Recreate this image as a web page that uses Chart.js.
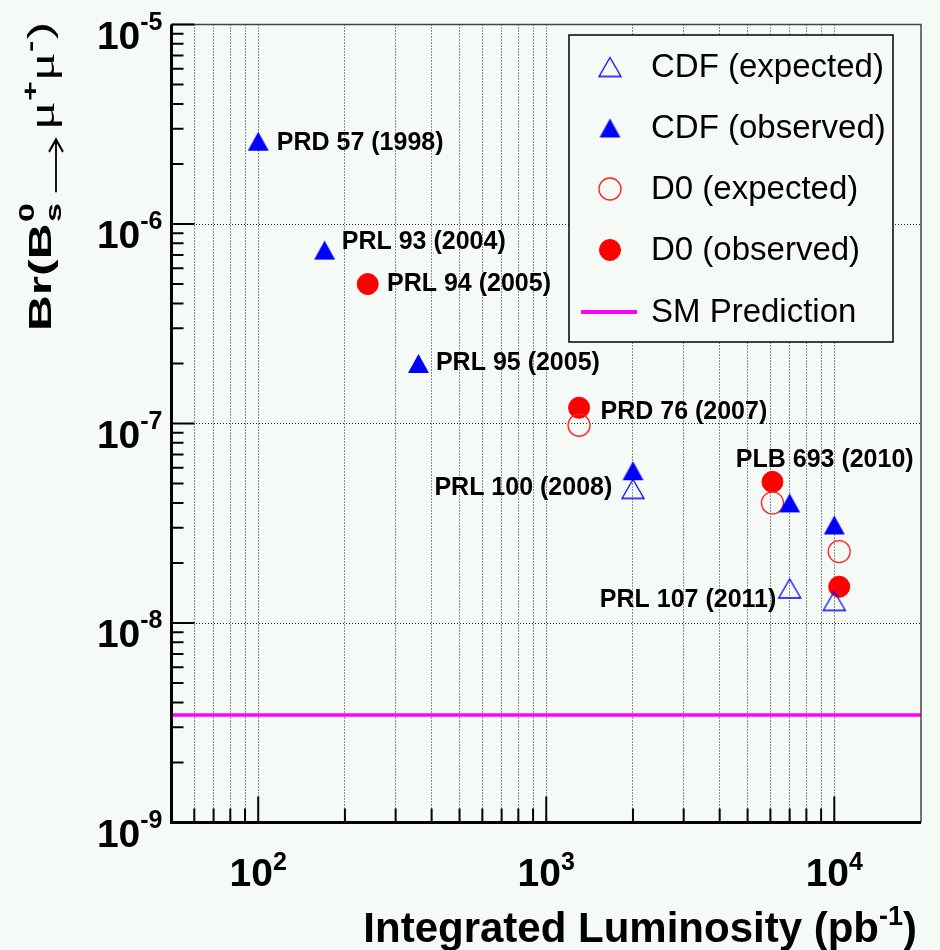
<!DOCTYPE html>
<html>
<head>
<meta charset="utf-8">
<script src="https://cdn.jsdelivr.net/npm/chart.js@4.4.0/dist/chart.umd.min.js"></script>
<style>
  html, body { margin: 0; padding: 0; background: #f6faf7; }
  canvas { display: block; }
</style>
</head>
<body>
<canvas id="lumiChart" width="940" height="950"></canvas>
<script>
// Bs -> mu mu limits vs integrated luminosity, CDF and D0

const cdfExpX = [2000, 7000, 10000];
const cdfExpY = [4.7e-8, 1.49e-8, 1.29e-8];

const cdfObsX = [100, 170, 360, 2000, 7000, 10000];
const cdfObsY = [2.6e-6, 7.4e-7, 2.0e-7, 5.8e-8, 4.0e-8, 3.1e-8];

const d0ExpX = [1300, 6100, 10400];
const d0ExpY = [9.8e-8, 4.0e-8, 2.28e-8];

const d0ObsX = [240, 1300, 6100, 10400];
const d0ObsY = [5.0e-7, 1.2e-7, 5.1e-8, 1.52e-8];

const smX = [50, 20000];
const smY = [3.46e-9, 3.46e-9];

// paper labels, left edge / vertical middle given in data units
const paperText = ['PRD 57 (1998)', 'PRL 93 (2004)', 'PRL 94 (2005)', 'PRL 95 (2005)',
                   'PRD 76 (2007)', 'PRL 100 (2008)', 'PLB 693 (2010)', 'PRL 107 (2011)'];
const paperX = [116, 195, 280, 414, 1543, 409, 4550, 1535];
const paperY = [2.55e-6, 8.07e-7, 5.02e-7, 2.0e-7, 1.14e-7, 4.73e-8, 6.56e-8, 1.30e-8];

// axis ticks
const xMajorTicks = [100, 1000, 10000];
const xTickExp = ['2', '3', '4'];
const xMinorTicks = [60, 70, 80, 90, 200, 300, 400, 500, 600, 700, 800, 900,
                     2000, 3000, 4000, 5000, 6000, 7000, 8000, 9000];
const yMajorTicks = [1e-9, 1e-8, 1e-7, 1e-6, 1e-5];
const yTickExp = ['-9', '-8', '-7', '-6', '-5'];
const yMinorMult = [2, 3, 4, 5, 6, 7, 8, 9];
const yMinorTicks = [];
yMajorTicks.slice(0, 4).forEach(d => yMinorMult.forEach(m => yMinorTicks.push(m * d)));

const BG = '#f6faf7';
const SANS = "'Liberation Sans', Arial, Helvetica, sans-serif";
const SERIF = "'Liberation Serif', 'Times New Roman', serif";

function pts(xs, ys) {
    return xs.map((x, i) => ({ x: x, y: ys[i] }));
}

function triangleSprite(w, h, filled, color) {
    const c = document.createElement('canvas');
    c.width = Math.ceil(w) + 4;
    c.height = Math.ceil(h) + 4;
    const g = c.getContext('2d');
    const cx = c.width / 2, cy = c.height / 2;
    g.beginPath();
    g.moveTo(cx, cy - h / 2);
    g.lineTo(cx + w / 2, cy + h / 2);
    g.lineTo(cx - w / 2, cy + h / 2);
    g.closePath();
    if (filled) {
        g.fillStyle = color;
        g.fill();
    } else {
        g.strokeStyle = color;
        g.lineWidth = 1.3;
        g.stroke();
    }
    return c;
}

const triOpen = triangleSprite(22, 19, false, '#0000ff');
const triFull = triangleSprite(21, 19, true, '#0000ff');

function textWithSup(ctx, base, sup, x, y, baseSize, supSize, supRise, align) {
    ctx.font = 'bold ' + baseSize + 'px ' + SANS;
    const wb = ctx.measureText(base).width;
    ctx.font = 'bold ' + supSize + 'px ' + SANS;
    const ws = ctx.measureText(sup).width;
    let x0 = x;
    if (align === 'center') x0 = x - (wb + ws) / 2;
    if (align === 'right') x0 = x - (wb + ws);
    ctx.textAlign = 'left';
    ctx.textBaseline = 'alphabetic';
    ctx.font = 'bold ' + baseSize + 'px ' + SANS;
    ctx.fillText(base, x0, y);
    ctx.font = 'bold ' + supSize + 'px ' + SANS;
    ctx.fillText(sup, x0 + wb, y - supRise);
}

const rootStyle = {
    id: 'rootStyle',
    beforeDraw(chart) {
        const ctx = chart.ctx;
        ctx.save();
        ctx.fillStyle = BG;
        ctx.fillRect(0, 0, chart.width, chart.height);
        ctx.restore();
    },
    afterDatasetsDraw(chart) {
        const ctx = chart.ctx;
        const a = chart.chartArea;
        const xs = chart.scales.x, ys = chart.scales.y;
        ctx.save();

        // paper labels
        ctx.fillStyle = '#000';
        ctx.font = 'bold 25px ' + SANS;
        ctx.textAlign = 'left';
        ctx.textBaseline = 'middle';
        paperText.forEach((t, i) => {
            ctx.fillText(t, xs.getPixelForValue(paperX[i]), ys.getPixelForValue(paperY[i]));
        });

        // frame
        ctx.strokeStyle = '#444';
        ctx.lineWidth = 1.5;
        ctx.beginPath();
        ctx.moveTo(a.left, a.top);
        ctx.lineTo(a.right, a.top);
        ctx.lineTo(a.right, a.bottom);
        ctx.stroke();

        // inward tick marks
        ctx.strokeStyle = '#000';
        ctx.lineWidth = 2;
        ctx.beginPath();
        xMajorTicks.forEach(v => { const p = xs.getPixelForValue(v); ctx.moveTo(p, a.bottom); ctx.lineTo(p, a.bottom - 26); });
        xMinorTicks.forEach(v => { const p = xs.getPixelForValue(v); ctx.moveTo(p, a.bottom); ctx.lineTo(p, a.bottom - 14); });
        yMajorTicks.forEach(v => { const p = ys.getPixelForValue(v); ctx.moveTo(a.left, p); ctx.lineTo(a.left + 23, p); });
        yMinorTicks.forEach(v => { const p = ys.getPixelForValue(v); ctx.moveTo(a.left, p); ctx.lineTo(a.left + 12, p); });
        ctx.stroke();

        // axis lines
        ctx.lineWidth = 3;
        ctx.beginPath();
        ctx.moveTo(a.left, a.top);
        ctx.lineTo(a.left, a.bottom);
        ctx.lineTo(a.right, a.bottom);
        ctx.stroke();

        // tick labels
        ctx.fillStyle = '#000';
        xMajorTicks.forEach((v, i) => {
            textWithSup(ctx, '10', xTickExp[i], xs.getPixelForValue(v), a.bottom + 63, 39, 25, 16, 'center');
        });
        yMajorTicks.forEach((v, i) => {
            const p = ys.getPixelForValue(v);
            textWithSup(ctx, '10', yTickExp[i], a.left - 9, p + 24, 39, 25, 19, 'right');
        });

        // x title
        ctx.font = 'bold 42px ' + SANS;
        const wClose = ctx.measureText(')').width;
        const wMain = ctx.measureText('Integrated Luminosity (pb').width;
        ctx.font = 'bold 27px ' + SANS;
        const wSup = ctx.measureText('-1').width;
        let tx = 917 - wClose - wSup - wMain;
        ctx.textAlign = 'left';
        ctx.textBaseline = 'alphabetic';
        ctx.font = 'bold 42px ' + SANS;
        ctx.fillText('Integrated Luminosity (pb', tx, 942);
        ctx.font = 'bold 27px ' + SANS;
        ctx.fillText('-1', tx + wMain, 925);
        ctx.font = 'bold 42px ' + SANS;
        ctx.fillText(')', tx + wMain + wSup, 942);

        // y title, rotated and stretched along the text
        ctx.translate(51, 331);
        ctx.rotate(-Math.PI / 2);
        ctx.scale(1.55, 1);
        let u = 0;
        ctx.font = 'bold 32px ' + SANS;
        ctx.fillText('Br(B', u, 0);
        u += ctx.measureText('Br(B').width;
        ctx.font = 'bold 22px ' + SANS;
        ctx.fillText('s', u + 1, 10);
        ctx.fillText('0', u + 1, -17);
        u += ctx.measureText('0').width + 8;
        // arrow
        ctx.lineWidth = 1.8;
        ctx.beginPath();
        ctx.moveTo(u, 5);
        ctx.lineTo(u + 34, 5);
        ctx.moveTo(u + 26, -2);
        ctx.lineTo(u + 34, 5);
        ctx.lineTo(u + 26, 12);
        ctx.stroke();
        u += 40;
        ctx.font = '35px ' + SERIF;
        ctx.fillText('\u03bc', u, 3);
        u += ctx.measureText('\u03bc').width;
        ctx.font = 'bold 22px ' + SANS;
        ctx.fillText('+', u, -13);
        u += ctx.measureText('+').width;
        ctx.font = '35px ' + SERIF;
        ctx.fillText('\u03bc', u, 3);
        u += ctx.measureText('\u03bc').width;
        ctx.font = 'bold 22px ' + SANS;
        ctx.fillText('-', u, -14);
        u += ctx.measureText('-').width + 1;
        ctx.font = '34px ' + SANS;
        ctx.fillText(')', u, 0);
        ctx.restore();

        // legend
        ctx.save();
        const L = { left: 569, top: 35, right: 893, bottom: 342 };
        ctx.fillStyle = BG;
        ctx.fillRect(L.left, L.top, L.right - L.left, L.bottom - L.top);
        ctx.strokeStyle = '#000';
        ctx.lineWidth = 1.5;
        ctx.strokeRect(L.left, L.top, L.right - L.left, L.bottom - L.top);
        const rowY = [67, 128, 189, 250, 312];
        chart.data.datasets.forEach((ds, i) => {
            const y = rowY[i];
            const mx = 610;
            if (ds.type === 'line') {
                ctx.strokeStyle = ds.borderColor;
                ctx.lineWidth = 4;
                ctx.beginPath();
                ctx.moveTo(581, y);
                ctx.lineTo(637, y);
                ctx.stroke();
            } else if (typeof ds.pointStyle === 'object') {
                const s = ds.pointStyle;
                ctx.drawImage(s, mx - s.width / 2, y - s.height / 2);
            } else {
                ctx.beginPath();
                ctx.arc(mx, y, ds.pointRadius, 0, Math.PI * 2);
                ctx.fillStyle = ds.backgroundColor;
                ctx.fill();
                ctx.strokeStyle = ds.borderColor;
                ctx.lineWidth = ds.borderWidth;
                ctx.stroke();
            }
            ctx.fillStyle = '#000';
            ctx.font = '33px ' + SANS;
            ctx.textAlign = 'left';
            ctx.textBaseline = 'middle';
            ctx.fillText(ds.label, 651, y + 1);
        });
        ctx.restore();
    }
};

new Chart(document.getElementById('lumiChart'), {
    type: 'scatter',
    data: {
        datasets: [
            {
                label: 'CDF (expected)',
                data: pts(cdfExpX, cdfExpY),
                pointStyle: triOpen,
                pointRadius: 10
            },
            {
                label: 'CDF (observed)',
                data: pts(cdfObsX, cdfObsY),
                pointStyle: triFull,
                pointRadius: 10
            },
            {
                label: 'D0 (expected)',
                data: pts(d0ExpX, d0ExpY),
                pointStyle: 'circle',
                pointRadius: 11,
                backgroundColor: 'rgba(0,0,0,0)',
                borderColor: '#ff2020',
                borderWidth: 1.3
            },
            {
                label: 'D0 (observed)',
                data: pts(d0ObsX, d0ObsY),
                pointStyle: 'circle',
                pointRadius: 10.5,
                backgroundColor: '#ff0000',
                borderColor: '#ff0000',
                borderWidth: 1
            },
            {
                type: 'line',
                label: 'SM Prediction',
                data: pts(smX, smY),
                borderColor: '#ff00ff',
                borderWidth: 3.5,
                pointRadius: 0,
                fill: false
            }
        ]
    },
    options: {
        responsive: false,
        animation: false,
        devicePixelRatio: 1,
        layout: { padding: { left: 171.5, top: 24.5, right: 19, bottom: 127.5 } },
        plugins: {
            legend: { display: false },
            tooltip: { enabled: false }
        },
        scales: {
            x: {
                type: 'logarithmic',
                min: 50,
                max: 20000,
                afterBuildTicks: s => { s.ticks = xMinorTicks.concat(xMajorTicks).map(v => ({ value: v })); },
                ticks: { display: false },
                grid: { drawTicks: false, color: 'rgba(0,0,0,0.85)', lineWidth: 1 },
                border: { display: false, dash: [1, 2] }
            },
            y: {
                type: 'logarithmic',
                min: 1e-9,
                max: 1e-5,
                afterBuildTicks: s => { s.ticks = yMajorTicks.slice(1, 4).map(v => ({ value: v })); },
                ticks: { display: false },
                grid: { drawTicks: false, color: 'rgba(0,0,0,0.85)', lineWidth: 1 },
                border: { display: false, dash: [1, 2] }
            }
        }
    },
    plugins: [rootStyle]
});
</script>
</body>
</html>
